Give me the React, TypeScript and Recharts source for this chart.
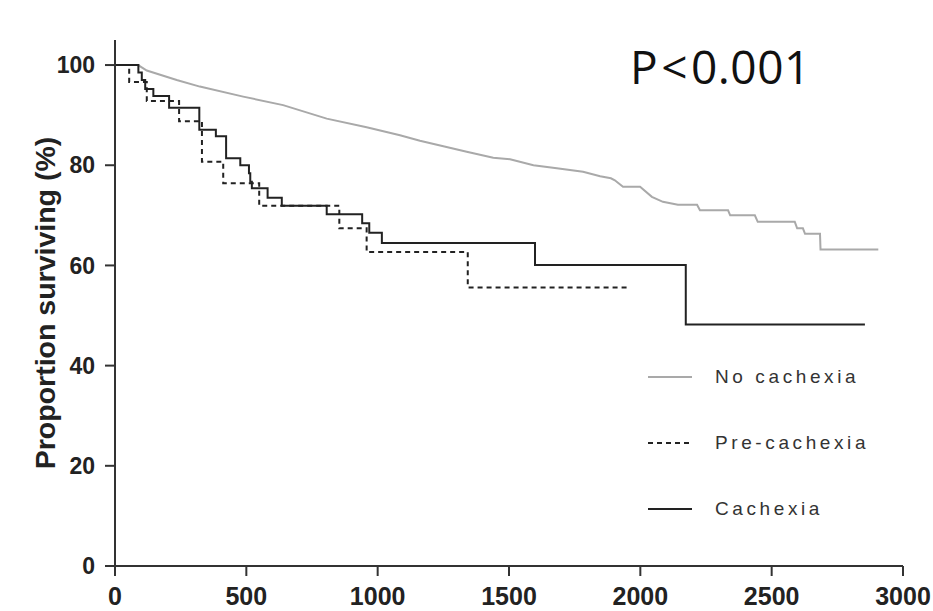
import React from 'react';
import { LineChart, Line, XAxis, YAxis } from 'recharts';

// days vs. % surviving
const noCachexia = [
  [0, 100], [88, 100], [121, 98.9], [235, 97.0], [323, 95.7], [488, 93.7], [640, 92.0],
  [806, 89.3], [958, 87.6], [1085, 86.0], [1161, 84.9], [1250, 83.8], [1339, 82.7],
  [1440, 81.5], [1504, 81.2], [1593, 80.0], [1682, 79.4], [1782, 78.7], [1847, 77.8],
  [1888, 77.4], [1903, 77.0], [1934, 75.7], [1999, 75.7], [2044, 73.7], [2086, 72.7],
  [2143, 72.1], [2216, 72.1], [2227, 71.0], [2334, 71.0], [2342, 70.0], [2436, 70.0],
  [2447, 68.7], [2588, 68.7], [2597, 67.4], [2619, 67.4], [2627, 66.3], [2684, 66.3],
  [2686, 63.2], [2906, 63.2],
].map(([t, s]) => ({ t, s }));

const preCachexia = [
  [0, 100], [54, 96.6], [121, 92.8], [244, 88.8], [331, 80.7], [412, 76.4], [549, 71.9],
  [854, 67.4], [958, 62.7], [1343, 55.6], [1948, 55.6],
].map(([t, s]) => ({ t, s }));

const cachexia = [
  [0, 100], [89, 98.5], [102, 97.0], [115, 95.2], [146, 93.8], [206, 91.5], [321, 87.1],
  [384, 85.8], [423, 81.4], [477, 80.0], [510, 78.4], [515, 76.7], [521, 75.4], [581, 73.5],
  [635, 71.9], [806, 70.2], [941, 68.4], [968, 66.5], [1016, 64.5], [1599, 60.1],
  [2173, 48.2], [2855, 48.2],
].map(([t, s]) => ({ t, s }));

const xTicks = [0, 500, 1000, 1500, 2000, 2500, 3000];
const yTicks = [0, 20, 40, 60, 80, 100];

const legendItems = [
  { label: 'No cachexia', color: '#a9a9a9', dash: undefined },
  { label: 'Pre-cachexia', color: '#222', dash: '5 4' },
  { label: 'Cachexia', color: '#222', dash: undefined },
];

const sans = '"Liberation Sans", Arial, sans-serif';

const LegendBox = () => (
  <div style={{ position: 'absolute', left: 646, top: 344 }}>
    {legendItems.map((it) => (
      <div key={it.label} style={{ display: 'flex', alignItems: 'center', height: 66 }}>
        <svg width={48} height={6}>
          <line x1={2} y1={3} x2={46} y2={3} stroke={it.color} strokeWidth={2} strokeDasharray={it.dash} />
        </svg>
        <span
          style={{
            marginLeft: 21,
            fontFamily: sans,
            fontSize: 19,
            letterSpacing: 3.6,
            color: '#333',
          }}
        >
          {it.label}
        </span>
      </div>
    ))}
  </div>
);

export default function App() {
  return (
    <div style={{ position: 'absolute', left: 0, top: 0, width: 933, height: 611, background: '#fff' }}>
      <LineChart width={933} height={611} margin={{ top: 40, right: 30, bottom: 0, left: 0 }}>
        <XAxis
          type="number"
          dataKey="t"
          domain={[0, 3000]}
          ticks={xTicks}
          tick={{ fill: '#222', fontSize: 25, fontWeight: 700, fontFamily: sans }}
          tickSize={10}
          tickMargin={11}
          height={45}
          interval={0}
          axisLine={{ stroke: '#333', strokeWidth: 2 }}
          tickLine={{ stroke: '#333', strokeWidth: 2 }}
        />
        <YAxis
          type="number"
          domain={[0, 105]}
          ticks={yTicks}
          tick={{ fill: '#222', fontSize: 23, fontWeight: 700, fontFamily: sans }}
          tickSize={10}
          tickMargin={10}
          width={115}
          interval={0}
          axisLine={{ stroke: '#333', strokeWidth: 2 }}
          tickLine={{ stroke: '#333', strokeWidth: 2 }}
          label={{
            value: 'Proportion surviving (%)',
            angle: -90,
            position: 'insideLeft',
            offset: 45,
            style: {
              textAnchor: 'middle',
              fill: '#222',
              fontSize: 28.5,
              fontWeight: 700,
              fontFamily: sans,
            },
          }}
        />
        <Line
          data={noCachexia}
          dataKey="s"
          type="linear"
          stroke="#a9a9a9"
          strokeWidth={2}
          dot={false}
          isAnimationActive={false}
        />
        <Line
          data={preCachexia}
          dataKey="s"
          type="stepAfter"
          stroke="#222"
          strokeWidth={2}
          strokeDasharray="5 4"
          dot={false}
          isAnimationActive={false}
        />
        <Line
          data={cachexia}
          dataKey="s"
          type="stepAfter"
          stroke="#222"
          strokeWidth={2}
          dot={false}
          isAnimationActive={false}
        />
      </LineChart>
      <LegendBox />
      <div
        style={{
          position: 'absolute',
          left: 630,
          top: 43,
          fontFamily: '"Open Sans", "Noto Sans", sans-serif',
          fontSize: 46,
          letterSpacing: 0.5,
          color: '#111',
          lineHeight: 1,
        }}
      >
        P<span style={{ margin: '0 3px' }}>&lt;</span>0.001
      </div>
    </div>
  );
}
